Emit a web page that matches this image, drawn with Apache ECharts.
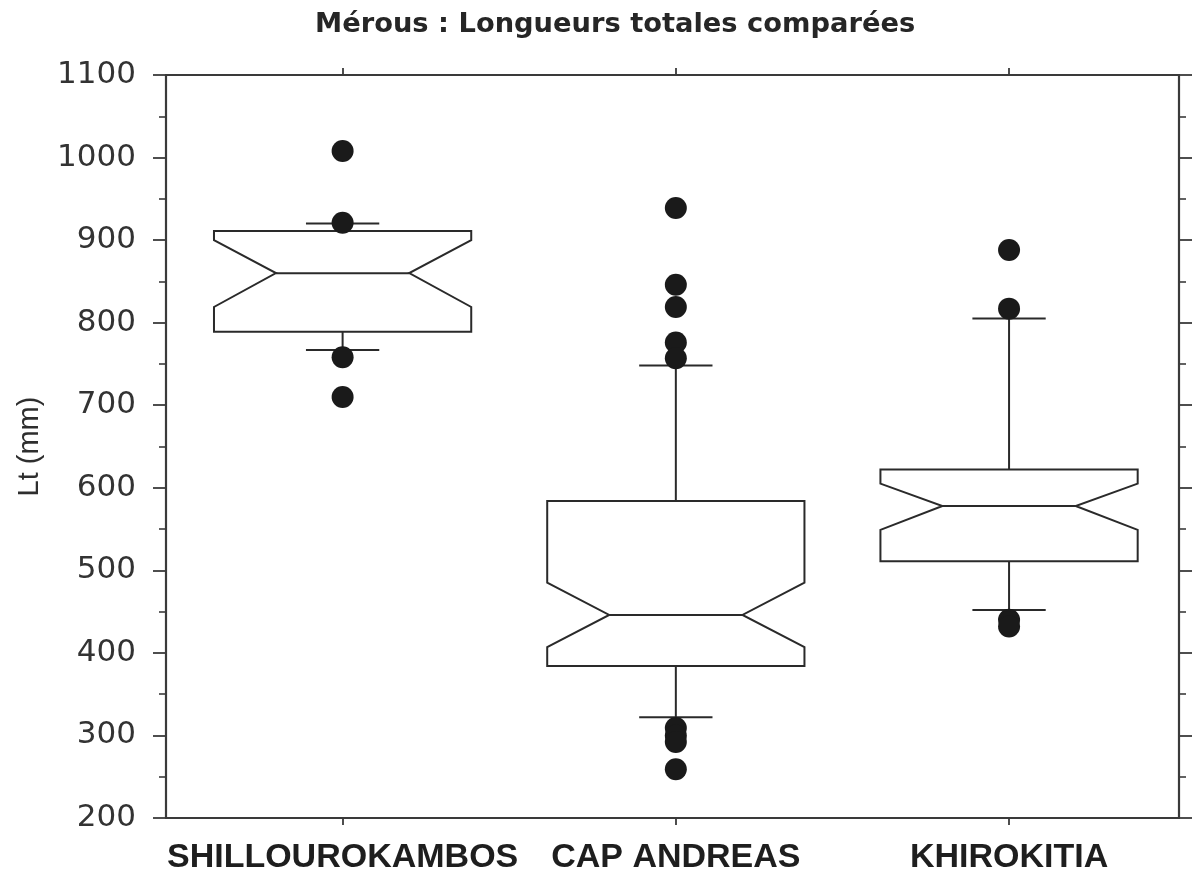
<!DOCTYPE html>
<html><head><meta charset="utf-8">
<script src="https://cdn.jsdelivr.net/npm/echarts@6/dist/echarts.min.js"></script>
<style>html,body{margin:0;padding:0;background:#fff}#c{width:1193px;height:875px}</style>
</head><body><div id="c"></div>
<script>
// ---- data ----
const titleText = 'Mérous : Longueurs totales comparées';
const yAxisName = 'Lt (mm)';
const categories = ['SHILLOUROKAMBOS', 'CAP ANDREAS', 'KHIROKITIA'];
const positions = [1, 2, 3];
const lowerWhisker = [767, 322, 452];
const q1 = [789, 384, 511];
const notchLow = [819, 407, 549];
const median = [860, 446, 578];
const notchHigh = [900, 485, 605];
const q3 = [911, 584, 622];
const upperWhisker = [920, 748, 805];
const outliers = [
  [1008, 921, 758, 710],
  [939, 846, 819, 776, 757, 309, 300, 292, 259],
  [888, 817, 440, 432]
];
const yMin = 200, yMax = 1100, yStep = 100;

// ---- build ----
const boxData = categories.map((c, i) => [positions[i], lowerWhisker[i], q1[i], notchLow[i], median[i], notchHigh[i], q3[i], upperWhisker[i]]);
const outlierData = [];
outliers.forEach((arr, i) => arr.forEach(v => outlierData.push([positions[i], v])));

const LINE = '#2a2a2a';
const AX = '#3a3a3a';

function renderBox(params, api) {
  const x = api.value(0);
  const P = (dx, k) => api.coord([x + dx, api.value(k)]);
  const bw = 0.386, nw = 0.2, cw = 0.11;
  const style = { stroke: LINE, lineWidth: 2, fill: '#fff' };
  const lstyle = { stroke: LINE, lineWidth: 2 };
  const pts = [P(-bw, 6), P(bw, 6), P(bw, 5), P(nw, 4), P(bw, 3), P(bw, 2), P(-bw, 2), P(-bw, 3), P(-nw, 4), P(-bw, 5)];
  const ln = (a, b) => ({ type: 'line', shape: { x1: a[0], y1: a[1], x2: b[0], y2: b[1] }, style: lstyle });
  return {
    type: 'group',
    children: [
      ln(P(0, 6), P(0, 7)),
      ln(P(-cw, 7), P(cw, 7)),
      ln(P(0, 2), P(0, 1)),
      ln(P(-cw, 1), P(cw, 1)),
      { type: 'polygon', shape: { points: pts }, style: style },
      ln(P(-nw, 4), P(nw, 4))
    ]
  };
}

const xCommon = {
  type: 'value', min: 0.47, max: 3.51,
  axisLine: { show: true, onZero: false, lineStyle: { color: AX, width: 2.2 } },
  splitLine: { show: false }
};
const yCommon = {
  type: 'value', min: yMin, max: yMax, interval: yStep,
  axisLine: { show: true, onZero: false, lineStyle: { color: AX, width: 2.2 } },
  axisTick: { show: true, inside: false, length: 13, lineStyle: { color: AX, width: 1.8 } },
  minorTick: { show: true, splitNumber: 2, length: 7, lineStyle: { color: AX, width: 1.6 } },
  splitLine: { show: false }, minorSplitLine: { show: false }
};

const option = {
  backgroundColor: '#fff',
  animation: false,
  title: {
    text: titleText, left: 310, top: 6,
    textStyle: { fontFamily: 'DejaVu Sans', fontWeight: 'bold', fontSize: 27.3, color: '#262626' }
  },
  grid: { left: 166, right: 14, top: 75, bottom: 57, containLabel: false, outerBoundsMode: 'none' },
  xAxis: [
    Object.assign({}, xCommon, {
      position: 'bottom',
      axisTick: { show: true, inside: false, length: 7, customValues: positions, lineStyle: { color: AX, width: 1.8 } },
      axisLabel: {
        show: true, customValues: positions, margin: 23,
        formatter: v => categories[Math.round(v) - 1] || '',
        fontFamily: 'Liberation Sans', fontWeight: 'bold', fontSize: 34, color: '#1e1e1e'
      }
    }),
    Object.assign({}, xCommon, {
      position: 'top',
      axisTick: { show: true, inside: false, length: 7, customValues: positions, lineStyle: { color: AX, width: 1.8 } },
      axisLabel: { show: false }
    })
  ],
  yAxis: [
    Object.assign({}, yCommon, {
      position: 'left',
      name: yAxisName, nameLocation: 'middle', nameGap: 122, nameRotate: 90,
      nameTextStyle: { fontFamily: 'Liberation Sans', fontSize: 29, color: '#2e2e2e' },
      axisLabel: { show: true, margin: 30, fontFamily: 'DejaVu Sans', fontSize: 31, color: '#333',
        formatter: v => String(v) }
    }),
    Object.assign({}, yCommon, {
      position: 'right',
      axisLabel: { show: false }
    })
  ],
  series: [
    {
      type: 'custom', name: 'box', xAxisIndex: 0, yAxisIndex: 0,
      renderItem: renderBox,
      dimensions: ['x', 'lw', 'q1', 'nlo', 'med', 'nhi', 'q3', 'uw'],
      encode: { x: 0, y: [1, 2, 3, 4, 5, 6, 7] },
      data: boxData, z: 2
    },
    {
      type: 'scatter', name: 'outliers', xAxisIndex: 0, yAxisIndex: 0,
      symbol: 'circle', symbolSize: 22,
      itemStyle: { color: '#1a1a1a', opacity: 1 },
      data: outlierData, z: 3
    }
  ]
};

const chart = echarts.init(document.getElementById('c'), null, { renderer: 'canvas' });
chart.setOption(option);
</script>
</body></html>
